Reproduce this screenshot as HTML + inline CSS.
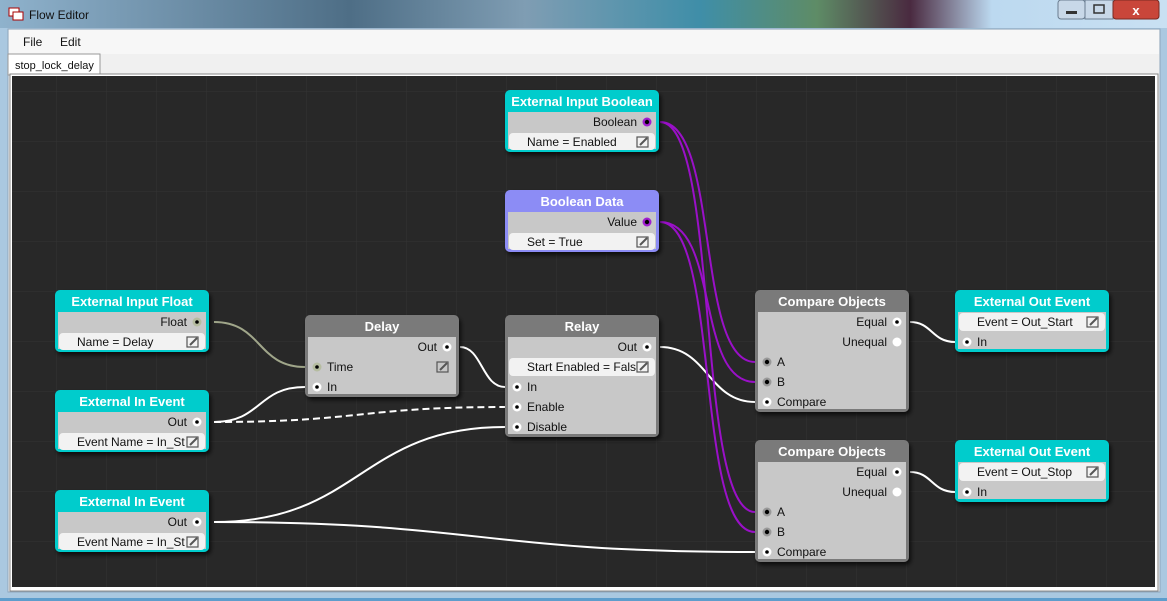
<!DOCTYPE html>
<html><head><meta charset="utf-8"><style>
html,body{margin:0;padding:0;width:1167px;height:601px;overflow:hidden;background:#6a8aa8}
svg{display:block;font-family:"Liberation Sans",sans-serif}
.h{font-weight:bold;font-size:13px;fill:#fff;text-anchor:middle}
.t{font-size:12px;fill:#111}
.r{text-anchor:end}
</style></head><body>
<svg width="1167" height="601" viewBox="0 0 1167 601" xmlns="http://www.w3.org/2000/svg">
<defs>
<linearGradient id="tb" x1="0" x2="1" y1="0" y2="0">
<stop offset="0" stop-color="#8fb2cc"/><stop offset="0.3" stop-color="#4e6e86"/><stop offset="0.45" stop-color="#7f9db3"/><stop offset="0.6" stop-color="#3f8ea8"/><stop offset="0.7" stop-color="#5e8c66"/><stop offset="0.78" stop-color="#4a2a40"/><stop offset="0.85" stop-color="#bcd9f0"/><stop offset="1" stop-color="#c9e0f2"/>
</linearGradient>
<pattern id="g" x="7" y="42" width="50" height="50" patternUnits="userSpaceOnUse"><path d="M50 0V50M0 50H50" stroke="#343434" stroke-width="1" fill="none"/></pattern>
<filter id="sh" x="-10%" y="-10%" width="130%" height="140%"><feDropShadow dx="2" dy="3" stdDeviation="2" flood-color="#000" flood-opacity="0.7"/></filter>
<g id="ed"><rect x="0" y="0" width="11" height="10" fill="none" stroke="#555" stroke-width="1.2"/><path d="M3 8L10 1" stroke="#555" stroke-width="2"/></g>
</defs>
<!-- window frame -->
<rect x="0" y="0" width="1167" height="601" fill="url(#tb)"/>
<rect x="0" y="588" width="1167" height="13" fill="#5d9dcc"/>
<rect x="0" y="28" width="1167" height="570" fill="#aac8e0"/>
<rect x="8" y="29" width="1152" height="563" fill="#f0f0f0" stroke="#8ea6bd"/>
<rect x="9" y="30" width="1150" height="24" fill="#f7f7f7"/>
<text x="10" y="19" font-size="12" fill="#000">
</text>
<rect x="9" y="8" width="10" height="8" fill="#fff" stroke="#a00"/><rect x="13" y="12" width="10" height="8" fill="#fff" stroke="#a00"/>
<text x="29" y="19" font-size="12" fill="#111">Flow Editor</text>
<rect x="1058" y="0" width="27" height="19" rx="3" fill="#c8d8e8" stroke="#6a7d90"/>
<rect x="1085" y="0" width="28" height="19" fill="#c8d8e8" stroke="#6a7d90"/>
<rect x="1113" y="0" width="46" height="19" rx="3" fill="#c9463a" stroke="#7a2a22"/>
<rect x="1066" y="11" width="11" height="3" fill="#333"/>
<rect x="1094" y="5" width="10" height="8" fill="none" stroke="#333" stroke-width="1.5"/>
<text x="1136" y="15" font-size="13" font-weight="bold" fill="#fff" text-anchor="middle">x</text>
<text x="23" y="46" font-size="12" fill="#111">File</text>
<text x="60" y="46" font-size="12" fill="#111">Edit</text>
<rect x="8" y="54" width="92" height="21" fill="#fff" stroke="#999"/>
<text x="15" y="69" font-size="11" fill="#111">stop_lock_delay</text>
<rect x="10" y="74" width="1148" height="517" fill="#fff" stroke="#888"/>
<rect x="12" y="76" width="1143" height="511" fill="#282828"/>
<rect x="12" y="76" width="1143" height="511" fill="url(#g)"/>

<!-- wires -->
<g fill="none" stroke-width="2">
<path d="M214 322C262 322 257 367 305 367" stroke="#a0a68a"/>
<path d="M214 422C262 422 257 387 305 387" stroke="#fff"/>
<path d="M214 422C360 422 360 407 505 407" stroke="#fff" stroke-dasharray="7,4"/>
<path d="M214 522C360 522 360 427 505 427" stroke="#fff"/>
<path d="M214 522C480 522 480 552 755 552" stroke="#fff"/>
<path d="M460 347C482 347 482 387 505 387" stroke="#fff"/>
<path d="M660 347C708 347 708 402 755 402" stroke="#fff"/>
<path d="M910 322C932 322 932 342 955 342" stroke="#fff"/>
<path d="M910 472C932 472 932 492 955 492" stroke="#fff"/>
<g stroke="#9a10c8">
<path d="M660 122C720 122 695 362 755 362"/>
<path d="M660 122C720 122 695 512 755 512"/>
<path d="M660 222C720 222 695 382 755 382"/>
<path d="M660 222C720 222 695 532 755 532"/>
</g>
</g>

<!-- nodes -->
<g filter="url(#sh)">
<rect x="55" y="290" width="154" height="62" rx="5" fill="#00cccc"/>
<rect x="55" y="390" width="154" height="62" rx="5" fill="#00cccc"/>
<rect x="55" y="490" width="154" height="62" rx="5" fill="#00cccc"/>
<rect x="305" y="315" width="154" height="82" rx="5" fill="#7a7a7a"/>
<rect x="505" y="90" width="154" height="62" rx="5" fill="#00cccc"/>
<rect x="505" y="190" width="154" height="62" rx="5" fill="#8c8cf5"/>
<rect x="505" y="315" width="154" height="122" rx="5" fill="#7a7a7a"/>
<rect x="755" y="290" width="154" height="122" rx="5" fill="#7a7a7a"/>
<rect x="755" y="440" width="154" height="122" rx="5" fill="#7a7a7a"/>
<rect x="955" y="290" width="154" height="62" rx="5" fill="#00cccc"/>
<rect x="955" y="440" width="154" height="62" rx="5" fill="#00cccc"/>
</g>
<g fill="#c8c8c8">
<rect x="58" y="312" width="148" height="37"/>
<rect x="58" y="412" width="148" height="37"/>
<rect x="58" y="512" width="148" height="37"/>
<rect x="308" y="337" width="148" height="57"/>
<rect x="508" y="112" width="148" height="37"/>
<rect x="508" y="212" width="148" height="37"/>
<rect x="508" y="337" width="148" height="97"/>
<rect x="758" y="312" width="148" height="97"/>
<rect x="758" y="462" width="148" height="97"/>
<rect x="958" y="312" width="148" height="37"/>
<rect x="958" y="462" width="148" height="37"/>
</g>
<g fill="#f2f2f2">
<rect x="59" y="333" width="146" height="17" rx="4"/>
<rect x="59" y="433" width="146" height="17" rx="4"/>
<rect x="59" y="533" width="146" height="17" rx="4"/>
<rect x="509" y="133" width="146" height="17" rx="4"/>
<rect x="509" y="233" width="146" height="17" rx="4"/>
<rect x="509" y="358" width="146" height="18" rx="4"/>
<rect x="959" y="313" width="146" height="18" rx="4"/>
<rect x="959" y="463" width="146" height="18" rx="4"/>
</g>
<use href="#ed" x="187" y="337"/><use href="#ed" x="187" y="437"/><use href="#ed" x="187" y="537"/>
<use href="#ed" x="437" y="362"/><use href="#ed" x="637" y="137"/><use href="#ed" x="637" y="237"/>
<use href="#ed" x="637" y="362"/><use href="#ed" x="1087" y="317"/><use href="#ed" x="1087" y="467"/>

<text class="h" x="132" y="306">External Input Float</text>
<text class="h" x="132" y="406">External In Event</text>
<text class="h" x="132" y="506">External In Event</text>
<text class="h" x="382" y="331">Delay</text>
<text class="h" x="582" y="106">External Input Boolean</text>
<text class="h" x="582" y="206">Boolean Data</text>
<text class="h" x="582" y="331">Relay</text>
<text class="h" x="832" y="306">Compare Objects</text>
<text class="h" x="832" y="456">Compare Objects</text>
<text class="h" x="1032" y="306">External Out Event</text>
<text class="h" x="1032" y="456">External Out Event</text>

<g class="t">
<text class="t r" x="187" y="326">Float</text>
<text class="t" x="77" y="346">Name = Delay</text>
<text class="t r" x="187" y="426">Out</text>
<text class="t" x="77" y="446">Event Name = In_St</text>
<text class="t r" x="187" y="526">Out</text>
<text class="t" x="77" y="546">Event Name = In_St</text>
<text class="t r" x="437" y="351">Out</text>
<text class="t" x="327" y="371">Time</text>
<text class="t" x="327" y="391">In</text>
<text class="t r" x="637" y="126">Boolean</text>
<text class="t" x="527" y="146">Name = Enabled</text>
<text class="t r" x="637" y="226">Value</text>
<text class="t" x="527" y="246">Set = True</text>
<text class="t r" x="637" y="351">Out</text>
<text class="t" x="527" y="371">Start Enabled = Fals</text>
<text class="t" x="527" y="391">In</text>
<text class="t" x="527" y="411">Enable</text>
<text class="t" x="527" y="431">Disable</text>
<text class="t r" x="887" y="326">Equal</text>
<text class="t r" x="887" y="346">Unequal</text>
<text class="t" x="777" y="366">A</text>
<text class="t" x="777" y="386">B</text>
<text class="t" x="777" y="406">Compare</text>
<text class="t r" x="887" y="476">Equal</text>
<text class="t r" x="887" y="496">Unequal</text>
<text class="t" x="777" y="516">A</text>
<text class="t" x="777" y="536">B</text>
<text class="t" x="777" y="556">Compare</text>
<text class="t" x="977" y="326">Event = Out_Start</text>
<text class="t" x="977" y="346">In</text>
<text class="t" x="977" y="476">Event = Out_Stop</text>
<text class="t" x="977" y="496">In</text>
</g>

<!-- ports -->
<g fill="#fff">
<circle cx="197" cy="322" r="4.5" fill="#b5bca0"/>
<circle cx="197" cy="422" r="4.5"/><circle cx="197" cy="522" r="4.5"/>
<circle cx="447" cy="347" r="4.5"/><circle cx="317" cy="367" r="4.5" fill="#b5bca0"/><circle cx="317" cy="387" r="4.5"/>
<circle cx="647" cy="122" r="4.5" fill="#a020d0"/><circle cx="647" cy="222" r="4.5" fill="#a020d0"/>
<circle cx="647" cy="347" r="4.5"/><circle cx="517" cy="387" r="4.5"/><circle cx="517" cy="407" r="4.5"/><circle cx="517" cy="427" r="4.5"/>
<circle cx="897" cy="322" r="4.5"/><circle cx="897" cy="342" r="4.5"/>
<circle cx="767" cy="362" r="4.5" fill="#999"/><circle cx="767" cy="382" r="4.5" fill="#999"/><circle cx="767" cy="402" r="4.5"/>
<circle cx="897" cy="472" r="4.5"/><circle cx="897" cy="492" r="4.5"/>
<circle cx="767" cy="512" r="4.5" fill="#999"/><circle cx="767" cy="532" r="4.5" fill="#999"/><circle cx="767" cy="552" r="4.5"/>
<circle cx="967" cy="342" r="4.5"/><circle cx="967" cy="492" r="4.5"/>
</g>
<g fill="#000">
<circle cx="197" cy="322" r="1.8"/><circle cx="197" cy="422" r="1.8"/><circle cx="197" cy="522" r="1.8"/>
<circle cx="447" cy="347" r="1.8"/><circle cx="317" cy="367" r="1.8"/><circle cx="317" cy="387" r="1.8"/>
<circle cx="647" cy="122" r="2.2"/><circle cx="647" cy="222" r="2.2"/>
<circle cx="647" cy="347" r="1.8"/><circle cx="517" cy="387" r="1.8"/><circle cx="517" cy="407" r="1.8"/><circle cx="517" cy="427" r="1.8"/>
<circle cx="897" cy="322" r="1.8"/>
<circle cx="767" cy="362" r="2.2"/><circle cx="767" cy="382" r="2.2"/><circle cx="767" cy="402" r="1.8"/>
<circle cx="897" cy="472" r="1.8"/>
<circle cx="767" cy="512" r="2.2"/><circle cx="767" cy="532" r="2.2"/><circle cx="767" cy="552" r="1.8"/>
<circle cx="967" cy="342" r="1.8"/><circle cx="967" cy="492" r="1.8"/>
</g>
</svg>
</body></html>
